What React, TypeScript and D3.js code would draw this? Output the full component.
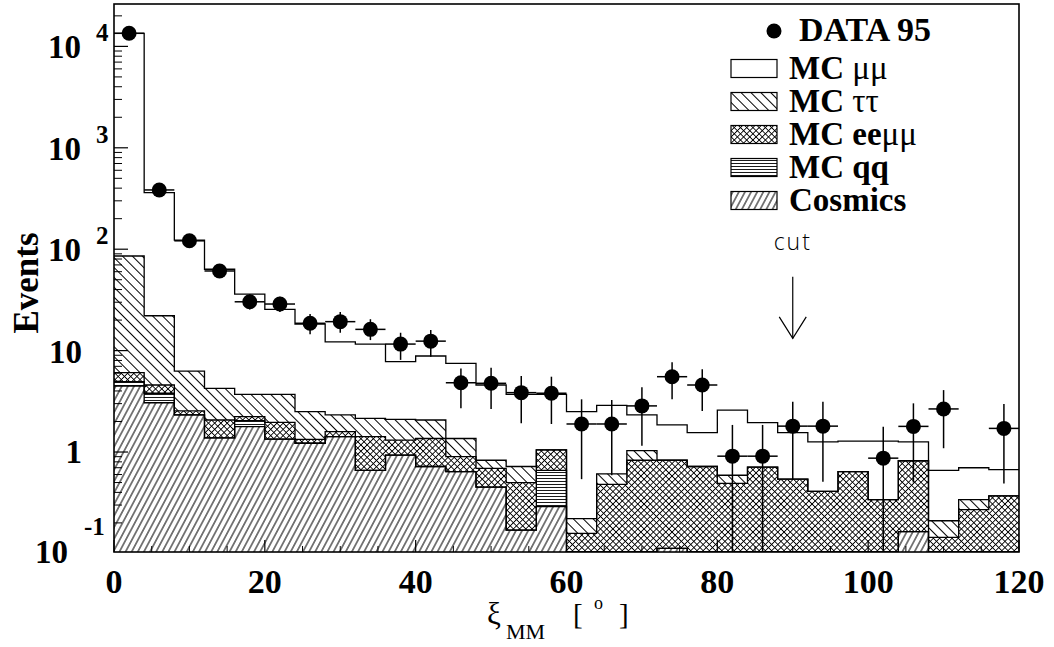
import React from "react";
import * as d3 from "d3";

// ---------- data (bins of 4 degrees) ----------
const binStart = [0, 4, 8, 12, 16, 20, 24, 28, 32, 36, 40, 44, 48, 52, 56, 60, 64, 68, 72, 76, 80, 84, 88, 92, 96, 100, 104, 108, 112, 116];
const BIN_W = 4;

const cosmics = [4.48, 3.06, 2.32, 1.38, 1.78, 1.34, 1.22, 1.42, 0.66, 0.93, 0.72, 0.64, 0.45, 0.17, 0.29, 0, 0, 0, 0.112, 0, 0, 0, 0, 0, 0, 0, 0.164, 0, 0, 0];
const mcQQ = [0.45, 0.74, 0, 0, 0.26, 0, 0, 0, 0, 0, 0, 0, 0, 0, 0.37, 0, 0, 0, 0, 0, 0, 0, 0, 0, 0, 0, 0, 0, 0, 0];
const mcEEMM = [1.13, 0.78, 0.22, 0.69, 0.19, 0.62, 0.11, 0.17, 0.76, 0.38, 0.64, 0.26, 0.24, 0.33, 0.39, 0.158, 0.48, 0.83, 0.718, 0.72, 0.49, 0.71, 0.54, 0.41, 0.64, 0.34, 0.656, 0.144, 0.27, 0.37];
const mcTauTau = [79.6, 17.5, 3.75, 2.18, 1.48, 1.75, 1.17, 0.73, 0.73, 0.79, 0.71, 0.46, 0.14, 0.22, 0, 0.062, 0.13, 0.2, 0, 0, 0.1, 0, 0, 0, 0, 0, 0, 0.066, 0.07, 0];
const mcMuMu = [13374, 339, 116.7, 59.2, 32.4, 21.8, 15.8, 9.88, 9.45, 5.68, 6.78, 6.14, 3.75, 2.99, 2.66, 2.28, 2.28, 1.29, 1.02, 0.83, 2.0, 1.24, 1.01, 0.85, 0.64, 0.94, 0.44, 0.45, 0.36, 0.3];

const data95 = [13460, 384, 121, 61, 30.3, 28.8, 18.6, 19.3, 16.2, 11.6, 12.4, 4.82, 4.76, 3.85, 3.8, 1.89, 1.89, 2.85, 5.53, 4.58, 0.91, 0.91, 1.8, 1.8, null, 0.87, 1.79, 2.66, null, 1.71];
const dataHi = [13580, 404, 132, 69, 36, 34, 23, 24, 20.4, 15, 16, 6.68, 6.78, 5.62, 5.53, 3.31, 3.26, 4.35, 7.67, 6.54, 1.85, 1.85, 3.13, 3.13, null, 1.78, 3.02, 4.08, null, 2.97];
const dataLo = [13340, 364, 110, 53, 25.5, 24, 14.5, 15, 12.7, 8.1, 8.7, 2.7, 2.66, 1.92, 1.89, 0.54, 0.59, 1.15, 3.31, 2.54, 0.05, 0.05, 0.53, 0.51, null, 0.05, 0.5, 1.09, null, 0.49];

const xTicksLabeled = [0, 20, 40, 60, 80, 100, 120];
const xTicksMinor = [5, 10, 15, 25, 30, 35, 45, 50, 55, 65, 70, 75, 85, 90, 95, 105, 110, 115];
const yDecades = [-1, 0, 1, 2, 3, 4];

const CUT = 90;
const cutArrowTop = 53.6;
const cutArrowBottom = 13.2;

const legendItems = [
  { key: "mm", label: [["MC ", true], ["μμ", false]] },
  { key: "tt", label: [["MC ", true], ["ττ", false]] },
  { key: "ee", label: [["MC ee", true], ["μμ", false]] },
  { key: "qq", label: [["MC qq", true]] },
  { key: "cos", label: [["Cosmics", true]] },
];

const SERIF = "'Liberation Serif', 'Times New Roman', serif";
const fills: Record<string, string> = {
  cos: "url(#hCos)",
  qq: "url(#hQQ)",
  ee: "url(#hEE)",
  tt: "url(#hTT)",
  mm: "none",
};

export default function App() {
  const W = 1054, H = 647;
  const L = 114, R = 1019, T = 4, B = 552;
  const x = d3.scaleLinear().domain([0, 120]).range([L, R]);
  const y = d3.scaleLog().domain([0.1033, 26180]).range([B, T]).clamp(true);
  const yy = (v: number) => y(Math.max(v, 1e-4));

  const rows = binStart.map((b, i) => ({
    b,
    cos: cosmics[i],
    qq: mcQQ[i],
    ee: mcEEMM[i],
    tt: mcTauTau[i],
    mm: mcMuMu[i],
  }));
  const keys = ["cos", "qq", "ee", "tt", "mm"];
  const stacked = d3.stack<any>().keys(keys)(rows);

  const area = d3
    .area<any>()
    .curve(d3.curveStepAfter)
    .x((d) => x(d.x))
    .y0((d) => yy(d.y0))
    .y1((d) => yy(d.y1));
  const topLine = d3
    .line<any>()
    .curve(d3.curveStepAfter)
    .x((d) => x(d.x))
    .y((d) => yy(d.y1));

  const layers = stacked.map((s) => {
    const pts = s.map((d, i) => ({ x: binStart[i], y0: d[0], y1: d[1] }));
    const last = pts[pts.length - 1];
    pts.push({ x: binStart[binStart.length - 1] + BIN_W, y0: last.y0, y1: last.y1 });
    return { key: s.key, pts };
  });

  const minorY: number[] = [];
  for (let e = -1; e <= 4; e++) {
    for (let m = 2; m <= 9; m++) {
      const v = m * Math.pow(10, e);
      if (v <= 26180) minorY.push(v);
    }
  }

  return (
    <svg width={W} height={H} style={{ position: "absolute", left: 0, top: 0, background: "#fff" }}>
      <defs>
        <pattern id="hCos" patternUnits="userSpaceOnUse" width="5.4" height="10" patternTransform="rotate(28)">
          <line x1="2.7" y1="0" x2="2.7" y2="10" stroke="#000" strokeWidth="1" />
        </pattern>
        <pattern id="hTT" patternUnits="userSpaceOnUse" width="7" height="10" patternTransform="rotate(-45)">
          <line x1="3.5" y1="0" x2="3.5" y2="10" stroke="#000" strokeWidth="1" />
        </pattern>
        <pattern id="hEE" patternUnits="userSpaceOnUse" width="4.4" height="4.4" patternTransform="rotate(45)">
          <line x1="2.2" y1="0" x2="2.2" y2="4.4" stroke="#000" strokeWidth="0.9" />
          <line x1="0" y1="2.2" x2="4.4" y2="2.2" stroke="#000" strokeWidth="0.9" />
        </pattern>
        <pattern id="hQQ" patternUnits="userSpaceOnUse" width="10" height="3">
          <line x1="0" y1="1.5" x2="10" y2="1.5" stroke="#000" strokeWidth="0.9" />
        </pattern>
        <clipPath id="plotClip">
          <rect x={L} y={T} width={R - L} height={B - T} />
        </clipPath>
      </defs>

      <g clipPath="url(#plotClip)">
        {layers.map((l) =>
          l.key !== "mm" ? (
            <path key={"a" + l.key} d={area(l.pts) || ""} fill={fills[l.key]} stroke="none" />
          ) : null
        )}
        {layers.map((l) => (
          <path key={"l" + l.key} d={topLine(l.pts) || ""} fill="none" stroke="#000" strokeWidth={1.3} />
        ))}
      </g>

      {/* frame */}
      <rect x={L} y={T} width={R - L} height={B - T} fill="none" stroke="#000" strokeWidth={1.6} />

      {/* y ticks */}
      {yDecades.map((e) => {
        const v = Math.pow(10, e);
        if (v < 0.1033) return null;
        return <line key={"yM" + e} x1={L} x2={L + 14} y1={y(v)} y2={y(v)} stroke="#000" strokeWidth={1.2} />;
      })}
      {minorY.map((v, i) => (
        <line key={"ym" + i} x1={L} x2={L + 8} y1={y(v)} y2={y(v)} stroke="#000" strokeWidth={1} />
      ))}
      {/* x ticks */}
      {xTicksLabeled.map((t) => (
        <line key={"xM" + t} x1={x(t)} x2={x(t)} y1={B} y2={B - 12} stroke="#000" strokeWidth={1.2} />
      ))}
      {xTicksMinor.map((t) => (
        <line key={"xm" + t} x1={x(t)} x2={x(t)} y1={B} y2={B - 6} stroke="#000" strokeWidth={1} />
      ))}

      {/* data points */}
      {data95.map((v, i) => {
        if (v === null) return null;
        const cx = x(binStart[i] + BIN_W / 2);
        const cy = y(v);
        return (
          <g key={"d" + i}>
            <line x1={cx} x2={cx} y1={yy(dataHi[i] as number)} y2={yy(dataLo[i] as number)} stroke="#000" strokeWidth={1.5} />
            <line x1={x(binStart[i])} x2={x(binStart[i] + BIN_W)} y1={cy} y2={cy} stroke="#000" strokeWidth={1.5} />
            <circle cx={cx} cy={cy} r={7.5} fill="#000" />
          </g>
        );
      })}

      {/* tick labels */}
      <g fontFamily={SERIF} fontWeight="bold" fill="#000">
        {yDecades.map((e) => {
          const v = Math.pow(10, e);
          const ty = e === -1 ? B : y(v);
          if (e === 0)
            return (
              <text key={"yl" + e} x={82} y={ty + 11} fontSize={33} textAnchor="end">1</text>
            );
          if (e === 1)
            return (
              <text key={"yl" + e} x={82} y={ty + 12} fontSize={33} textAnchor="end">10</text>
            );
          if (e === -1)
            return (
              <g key={"yl" + e}>
                <text x={35} y={ty + 11} fontSize={33}>10</text>
                <text x={84} y={ty - 17} fontSize={25}>-1</text>
              </g>
            );
          return (
            <g key={"yl" + e}>
              <text x={81} y={ty + 12} fontSize={33} textAnchor="end">10</text>
              <text x={96} y={ty - 5} fontSize={25}>{String(e)}</text>
            </g>
          );
        })}
        {xTicksLabeled.map((t) => (
          <text key={"xl" + t} x={x(t)} y={593} fontSize={34} textAnchor="middle">{String(t)}</text>
        ))}
      </g>

      {/* axis titles */}
      <text
        transform="translate(38,283) rotate(-90)"
        textAnchor="middle"
        fontFamily={SERIF}
        fontWeight="bold"
        fontSize={35}
      >
        Events
      </text>
      <g fontFamily={SERIF} fill="#000">
        <text x={487} y={624} fontSize={31}>ξ</text>
        <text x={506} y={639} fontSize={22}>MM</text>
        <text x={573} y={624} fontSize={29}>[</text>
        <text x={594} y={609} fontSize={18}>o</text>
        <text x={619} y={624} fontSize={29}>]</text>
      </g>

      {/* legend */}
      <g fontFamily={SERIF} fill="#000">
        <circle cx={774} cy={31} r={7.5} fill="#000" />
        <text x={799} y={41} fontSize={34} fontWeight="bold">DATA 95</text>
        {legendItems.map((it, i) => {
          const top = 59.5 + i * 33;
          return (
            <g key={"lg" + it.key}>
              <rect x={731} y={top} width={46} height={18} fill={it.key === "mm" ? "#fff" : fills[it.key]} stroke="#000" strokeWidth={1.2} />
              <text x={789} y={top + 19} fontSize={33}>
                {it.label.map((p, j) => (
                  <tspan key={j} fontWeight={p[1] ? "bold" : "normal"}>{p[0] as string}</tspan>
                ))}
              </text>
            </g>
          );
        })}
      </g>

      {/* cut annotation */}
      <text x={x(CUT)} y={250} fontSize={23} textAnchor="middle" fontFamily="'Open Sans', 'DejaVu Sans', sans-serif" fontWeight={300} letterSpacing={2}>
        cut
      </text>
      <line x1={x(CUT)} x2={x(CUT)} y1={y(cutArrowTop)} y2={y(cutArrowBottom)} stroke="#000" strokeWidth={1.2} />
      <path
        d={`M${x(CUT) - 13.5},${y(cutArrowBottom) - 21.5} L${x(CUT)},${y(cutArrowBottom)} L${x(CUT) + 13.5},${y(cutArrowBottom) - 21.5}`}
        fill="none"
        stroke="#000"
        strokeWidth={1.2}
      />
    </svg>
  );
}
